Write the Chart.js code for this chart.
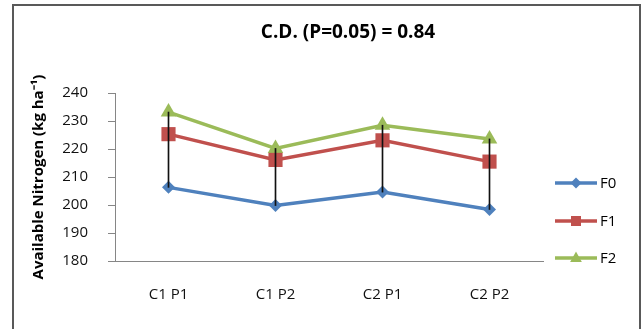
<!DOCTYPE html>
<html>
<head>
<meta charset="utf-8">
<script src="https://cdn.jsdelivr.net/npm/chart.js@4/dist/chart.umd.min.js"></script>
<style>
  html, body { margin: 0; padding: 0; background: #fff; }
  #wrap { width: 642px; height: 329px; position: relative; }
</style>
</head>
<body>
<div id="wrap"><canvas id="chart-n"></canvas></div>
<script>
// treatment combinations and the three fertiliser levels
var categories = ["C1 P1", "C1 P2", "C2 P1", "C2 P2"];
var f0_values = [206.3, 199.8, 204.6, 198.4];
var f1_values = [225.3, 216.1, 223.1, 215.5];
var f2_values = [233.2, 220.2, 228.5, 223.6];
var y_ticks = [180, 190, 200, 210, 220, 230, 240];
var chart_title = "C.D. (P=0.05) = 0.84";
var y_title = "Available Nitrogen (kg ha\u207B\u00B9)";

var FONT = "'Open Sans', 'Liberation Sans', sans-serif";

// high-low lines between the lowest and highest series at each category
var hilo = [];
for (let i = 0; i < categories.length; i++) {
  hilo.push([Math.min(f0_values[i], f2_values[i]), Math.max(f0_values[i], f2_values[i])]);
}

function drawMarker(ctx, style, x, y, r, color) {
  ctx.save();
  ctx.fillStyle = color;
  ctx.beginPath();
  if (style === "rectRot") {
    ctx.moveTo(x - r, y); ctx.lineTo(x, y - r); ctx.lineTo(x + r, y); ctx.lineTo(x, y + r);
  } else if (style === "rect") {
    ctx.rect(x - r, y - r, 2 * r, 2 * r);
  } else {
    ctx.moveTo(x, y - r); ctx.lineTo(x + r * 0.9, y + r * 0.6); ctx.lineTo(x - r * 0.9, y + r * 0.6);
  }
  ctx.closePath();
  ctx.fill();
  ctx.restore();
}

var extras = {
  id: "extras",
  afterDraw: function (chart) {
    const ctx = chart.ctx;
    ctx.save();
    // frame
    ctx.strokeStyle = "#595959";
    ctx.lineWidth = 2;
    ctx.strokeRect(13, 5, 627, 340);
    // title
    ctx.fillStyle = "#000";
    ctx.font = "bold 19px " + FONT;
    ctx.textAlign = "center";
    ctx.textBaseline = "middle";
    ctx.fillText(chart_title, 348, 33);
    // legend
    const items = [
      { label: "F0", color: "#4F81BD", style: "rectRot", r: 5.5 },
      { label: "F1", color: "#C0504D", style: "rect", r: 5 },
      { label: "F2", color: "#9BBB59", style: "triangle", r: 6.5 },
    ];
    const ys = [183, 221, 258];
    ctx.font = "15px " + FONT;
    ctx.textAlign = "left";
    for (let i = 0; i < items.length; i++) {
      ctx.strokeStyle = items[i].color;
      ctx.lineWidth = 3.5;
      ctx.beginPath();
      ctx.moveTo(555, ys[i]);
      ctx.lineTo(597, ys[i]);
      ctx.stroke();
      drawMarker(ctx, items[i].style, 576, ys[i], items[i].r, items[i].color);
      ctx.fillStyle = "#000";
      ctx.fillText(items[i].label, 600, ys[i] + 1);
    }
    ctx.restore();
  },
};

const ctx_n = document.getElementById("chart-n").getContext("2d");
const chartN = new Chart(ctx_n, {
  type: "line",
  data: {
    labels: categories,
    datasets: [
      {
        type: "bar",
        label: "hilo",
        data: hilo,
        backgroundColor: "#111",
        barThickness: 1,
        order: 0,
      },
      {
        label: "F0",
        data: f0_values,
        borderColor: "#4F81BD",
        backgroundColor: "#4F81BD",
        borderWidth: 3.5,
        pointStyle: "rectRot",
        pointRadius: 6.5,
        pointBorderWidth: 0,
        order: 1,
      },
      {
        label: "F1",
        data: f1_values,
        borderColor: "#C0504D",
        backgroundColor: "#C0504D",
        borderWidth: 3.5,
        pointStyle: "rect",
        pointRadius: 10,
        pointBorderWidth: 0,
        order: 1,
      },
      {
        label: "F2",
        data: f2_values,
        borderColor: "#9BBB59",
        backgroundColor: "#9BBB59",
        borderWidth: 3.5,
        pointStyle: "triangle",
        pointRadius: 9,
        pointBorderWidth: 0,
        order: 1,
      },
    ],
  },
  options: {
    responsive: true,
    maintainAspectRatio: false,
    animation: false,
    events: [],
    layout: { padding: { top: 93, right: 99, left: 0, bottom: 0 } },
    plugins: {
      legend: { display: false },
      tooltip: { enabled: false },
    },
    scales: {
      x: {
        offset: true,
        grid: { display: false, drawTicks: false },
        border: { display: true, color: "#868686", width: 1 },
        ticks: { color: "#111", padding: 25, font: { family: FONT, size: 15 } },
        afterFit: function (scale) { scale.height = 68; },
      },
      y: {
        min: 180,
        max: 240,
        afterBuildTicks: function (scale) {
          scale.ticks = y_ticks.map(function (v) { return { value: v }; });
        },
        grid: { drawOnChartArea: false, drawTicks: true, tickLength: 7, color: "#868686" },
        border: { display: true, color: "#868686", width: 1 },
        ticks: { color: "#111", padding: 20, font: { family: FONT, size: 15 } },
        title: {
          display: true,
          text: y_title,
          color: "#000",
          padding: { top: 30, bottom: 0 },
          font: { family: FONT, size: 15, weight: "bold" },
        },
        afterFit: function (scale) { scale.width = 115; },
      },
    },
  },
  plugins: [extras],
});
</script>
</body>
</html>
